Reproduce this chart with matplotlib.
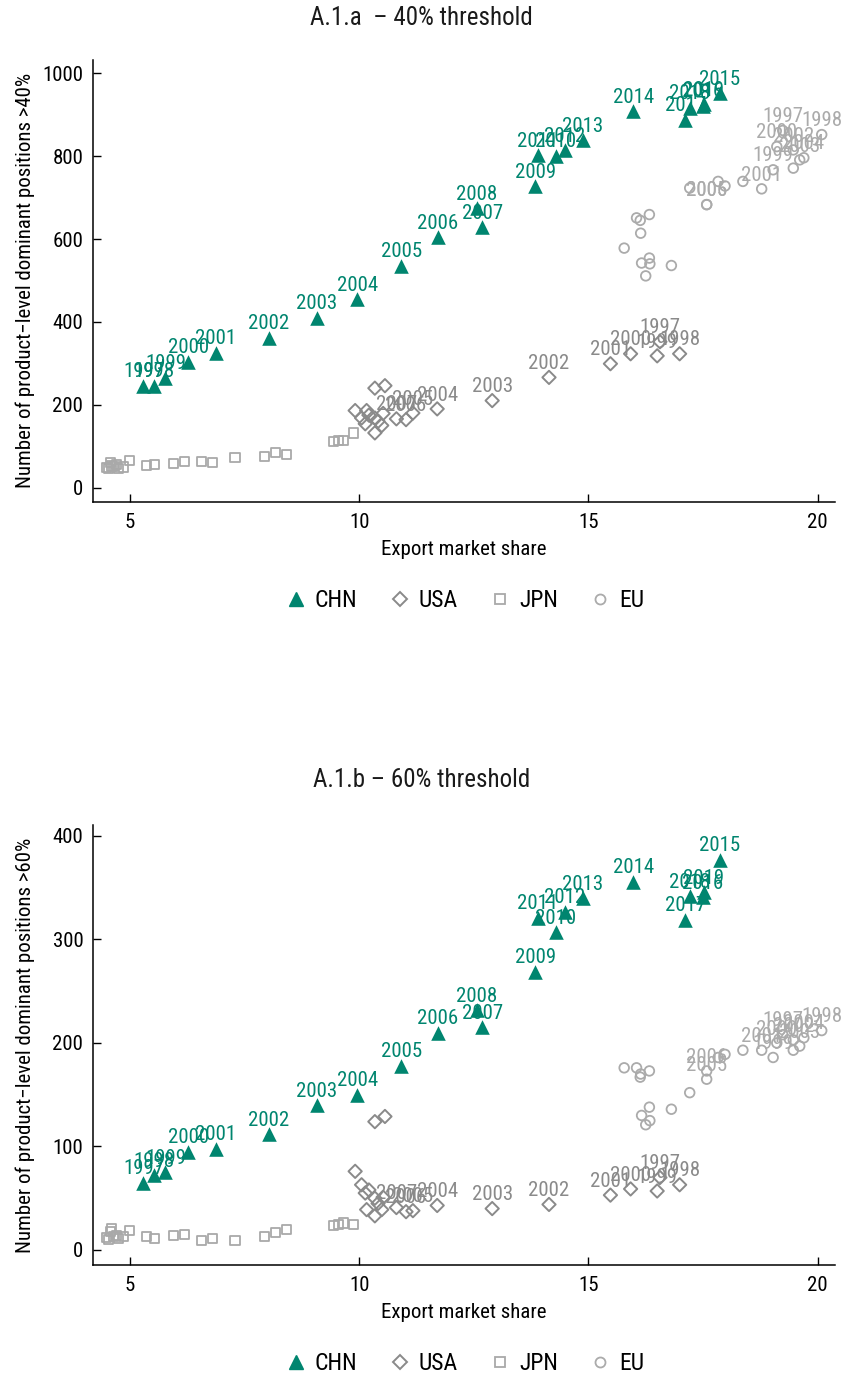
import matplotlib
matplotlib.use("Agg")
import matplotlib.pyplot as plt
from matplotlib.lines import Line2D
from matplotlib import font_manager

# ---------------- data ----------------
chn_years = ["1997", "1998", "1999", "2000", "2001", "2002", "2003", "2004", "2005", "2006", "2007", "2008",
             "2009", "2010", "2011", "2012", "2013", "2014", "2015", "2016", "2017", "2018", "2019"]
chn_x = [5.29, 5.53, 5.77, 6.27, 6.87, 8.02, 9.07, 9.96, 10.92, 11.72, 12.68, 12.57,
         13.84, 14.29, 13.90, 14.49, 14.88, 15.98, 17.87, 17.50, 17.11, 17.21, 17.52]
chn_y40 = [246, 246, 265, 304, 326, 362, 410, 454, 536, 605, 629, 675,
           727, 801, 803, 814, 838, 908, 952, 922, 888, 917, 925]
chn_y60 = [65, 72, 75, 95, 98, 112, 140, 150, 178, 210, 215, 232,
           269, 307, 321, 327, 340, 356, 377, 341, 319, 342, 346]

usa_labels = ["1997", "1998", "1999", "2000", "2001", "2002", "2003", "2004", "2005", "2006", "2007",
              "", "", "", "", "", "", "", "", "", "", "", ""]
usa_x = [16.56, 16.99, 16.50, 15.92, 15.48, 14.14, 12.90, 11.70, 11.17, 11.02, 10.81,
         10.56, 10.34, 10.52, 10.34, 10.49, 10.34, 10.13, 10.05, 10.16, 9.91, 10.21, 10.41]
usa_y40 = [352, 323, 318, 323, 299, 266, 210, 190, 180, 164, 166,
           246, 240, 179, 168, 150, 132, 154, 168, 186, 186, 175, 160]
usa_y60 = [70, 63, 57, 59, 53, 44, 40, 43, 38, 37, 41,
           129, 124, 51, 50, 39, 33, 55, 63, 39, 76, 58, 45]

jpn_x = [4.49, 4.53, 4.57, 4.59, 4.64, 4.70, 4.75, 4.85, 4.98, 5.35, 5.54, 5.95,
         6.18, 6.56, 6.80, 7.29, 7.94, 8.18, 8.42, 9.43, 9.55, 9.66, 9.87]
jpn_y40 = [48, 46, 60, 52, 51, 55, 46, 50, 66, 54, 55, 58,
           63, 63, 61, 73, 75, 84, 80, 112, 113, 114, 132]
jpn_y60 = [12, 10, 18, 21, 13, 14, 11, 13, 19, 13, 11, 14,
           15, 9, 11, 9, 13, 17, 20, 24, 25, 26, 25]

eu_labels = ["1997", "1998", "1999", "2000", "2001", "2002", "2003", "2004", "", "2006", "",
             "", "", "", "2005", "", "", "", "", "", "", "", "", "", ""]
eu_x = [19.24, 20.09, 19.03, 19.11, 18.78, 19.47, 19.61, 19.70, 19.47, 17.58, 17.21,
        18.37, 17.98, 17.83, 17.58, 16.05, 16.13, 16.33, 16.14, 15.78, 16.33, 16.16, 16.34, 16.81, 16.25]
eu_y40 = [862, 852, 767, 823, 721, 815, 791, 796, 771, 683, 723,
          739, 728, 739, 683, 651, 645, 659, 614, 578, 554, 542, 540, 536, 511]
eu_y60 = [208, 212, 186, 200, 193, 203, 197, 205, 193, 173, 152,
          193, 189, 186, 165, 176, 167, 173, 170, 176, 138, 130, 125, 136, 121]

x_ticks = [5, 10, 15, 20]
y_ticks40 = [0, 200, 400, 600, 800, 1000]
y_ticks60 = [0, 100, 200, 300, 400]
titles = ["A.1.a  \u2013 40% threshold", "A.1.b \u2013 60% threshold"]
ylabels = ["Number of product\u2212level dominant positions >40%",
           "Number of product\u2212level dominant positions >60%"]
xlabel = "Export market share"
legend_names = ["CHN", "USA", "JPN", "EU"]

# ---------------- style ----------------
avail = {f.name for f in font_manager.fontManager.ttflist}
narrow = [f for f in ["Liberation Sans Narrow", "Roboto Condensed", "Open Sans Condensed"] if f in avail]
fam = narrow + [f for f in ["Liberation Sans", "DejaVu Sans"] if f in avail]
plt.rcParams["font.family"] = fam
if narrow:
    FS, FT, FL = 15, 18, 17
else:
    FS, FT, FL = 14.5, 16, 15

C_CHN = "#00856f"
C_USA = "#8a8a8a"
C_JPN = "#a9a9a9"
C_EU = "#ababab"

W, H = 843, 1377
fig = plt.figure(figsize=(W / 100, H / 100), dpi=100)
ax1 = fig.add_axes([93 / W, 1 - 501.7 / H, 742 / W, 441.7 / H])
ax2 = fig.add_axes([93 / W, 1 - 1265 / H, 742 / W, 440 / H])


def label_points(ax, xs, ys, labels, color):
    for x, y, t in zip(xs, ys, labels):
        if t:
            ax.annotate(t, (x, y), xytext=(0, 6), textcoords="offset points",
                        ha="center", va="baseline", color=color, fontsize=FS, zorder=5)


def panel(ax, yc, yu, yj, ye, ylim, yticks, ylabel):
    ax.scatter(jpn_x, yj, marker="s", s=44, facecolors="none", edgecolors=C_JPN, linewidths=1.3, zorder=3)
    ax.scatter(eu_x, ye, marker="o", s=48, facecolors="none", edgecolors=C_EU, linewidths=1.3, zorder=3)
    ax.scatter(usa_x, yu, marker="D", s=46, facecolors="none", edgecolors=C_USA, linewidths=1.4, zorder=3)
    ax.scatter(chn_x, yc, marker="^", s=110, color=C_CHN, linewidths=0, zorder=4)
    label_points(ax, eu_x, ye, eu_labels, C_EU)
    label_points(ax, usa_x, yu, usa_labels, C_USA)
    label_points(ax, chn_x, yc, chn_years, C_CHN)
    ax.set_xlim(4.19, 20.38)
    ax.set_ylim(*ylim)
    ax.set_xticks(x_ticks)
    ax.set_yticks(yticks)
    ax.tick_params(direction="in", length=6, width=1.0, labelsize=FS, pad=7, color="black")
    ax.tick_params(axis="x", pad=8)
    for s in ["top", "right"]:
        ax.spines[s].set_visible(False)
    for s in ["left", "bottom"]:
        ax.spines[s].set_linewidth(1.1)
    ax.set_xlabel(xlabel, fontsize=FS, labelpad=6)
    ax.set_ylabel(ylabel, fontsize=FS)
    ax.yaxis.set_label_coords(-0.078, 0.5)
    handles = [
        Line2D([], [], marker="^", linestyle="none", color=C_CHN, markersize=10.5),
        Line2D([], [], marker="D", linestyle="none", markerfacecolor="none", markeredgecolor=C_USA,
               markersize=7.0, markeredgewidth=1.4),
        Line2D([], [], marker="s", linestyle="none", markerfacecolor="none", markeredgecolor=C_JPN,
               markersize=7.0, markeredgewidth=1.3),
        Line2D([], [], marker="o", linestyle="none", markerfacecolor="none", markeredgecolor=C_EU,
               markersize=7.2, markeredgewidth=1.3),
    ]
    ax.legend(handles, legend_names, loc="center", bbox_to_anchor=(0.5, -0.224), ncol=4,
              frameon=False, fontsize=FL, handletextpad=0.3, columnspacing=1.3, handlelength=1.0)


panel(ax1, chn_y40, usa_y40, jpn_y40, eu_y40, (-34, 1032), y_ticks40, ylabels[0])
panel(ax2, chn_y60, usa_y60, jpn_y60, eu_y60, (-14.5, 410.6), y_ticks60, ylabels[1])

fig.text(0.5, 1 - 18 / H, titles[0], ha="center", va="center", fontsize=FT, color="#1a1a1a")
fig.text(0.5, 1 - 780 / H, titles[1], ha="center", va="center", fontsize=FT, color="#1a1a1a")

fig.savefig("out.png", dpi=100)
